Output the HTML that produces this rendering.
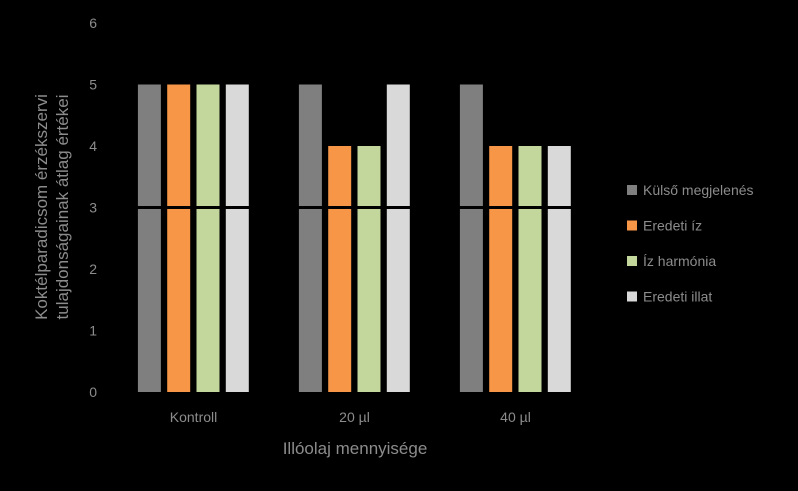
<!DOCTYPE html>
<html><head><meta charset="utf-8"><style>
body{margin:0;background:#000;}
svg text{font-family:"Liberation Sans",sans-serif;fill:#8c8c8c;}
</style></head><body>
<svg id="c" width="798" height="486" xmlns="http://www.w3.org/2000/svg">
<rect width="798" height="486" fill="#000"/>
<g id="bars"></g>
<g id="yt"></g>
<g id="xt"></g>
<text x="355" y="454" font-size="17" text-anchor="middle">Illóolaj mennyisége</text>
<text transform="translate(50,207) rotate(-90)" font-size="17" text-anchor="middle"><tspan x="0" dy="-3">Koktélparadicsom érzékszervi</tspan><tspan x="0" dy="21">tulajdonságainak átlag értékei</tspan></text>
<g id="legend"></g>
</svg>
<script>
const categories=["Kontroll","20 µl","40 µl"];
const seriesNames=["Külső megjelenés","Eredeti íz","Íz harmónia","Eredeti illat"];
const s1=[5,5,5];
const s2=[5,4,4];
const s3=[5,4,4];
const s4=[5,5,4];
const yTicks=[0,1,2,3,4,5,6];
const series=[s1,s2,s3,s4];
const colors=["#7f7f7f","#f79646","#c3d69b","#d9d9d9"];
const NS="http://www.w3.org/2000/svg";
const y0=392,yU=61.5,left=113,catW=161,bw=23,step=29.3;
const y=v=>y0-v*yU;
const xc=i=>left+catW*(i+0.5);
const bars=document.getElementById('bars');
series.forEach((s,si)=>s.forEach((v,ci)=>{
 const r=document.createElementNS(NS,'rect');
 
 
 r.setAttribute('x',xc(ci)-2*step+3+si*step);
 r.setAttribute('y',y(v));r.setAttribute('width',bw);r.setAttribute('height',y0-y(v));
 r.setAttribute('fill',colors[si]);bars.appendChild(r);
}));
const gl=document.createElementNS(NS,'line');


gl.setAttribute('x1',left);gl.setAttribute('x2',left+3*catW);gl.setAttribute('y1',y(3));gl.setAttribute('y2',y(3));
gl.setAttribute('stroke','#000');gl.setAttribute('stroke-width','3');bars.appendChild(gl);
const yt=document.getElementById('yt');
yTicks.forEach(t=>{const e=document.createElementNS(NS,'text');
 
 
 e.setAttribute('x',97);e.setAttribute('y',y(t)+5);e.setAttribute('text-anchor','end');e.setAttribute('font-size','14');
 e.textContent=t;yt.appendChild(e);});
const xt=document.getElementById('xt');
categories.forEach((c,i)=>{const e=document.createElementNS(NS,'text');
 
 
 e.setAttribute('x',xc(i));e.setAttribute('y',422);e.setAttribute('text-anchor','middle');e.setAttribute('font-size','14');
 e.textContent=c;xt.appendChild(e);});
const lg=document.getElementById('legend');
seriesNames.forEach((n,i)=>{const yy=190+i*35.5;
 const r=document.createElementNS(NS,'rect');
 
 
 r.setAttribute('x',627);r.setAttribute('y',yy-5);r.setAttribute('width',10);r.setAttribute('height',10);r.setAttribute('fill',colors[i]);lg.appendChild(r);
 const t=document.createElementNS(NS,'text');
 
 
 t.setAttribute('x',643);t.setAttribute('y',yy+5);t.setAttribute('font-size','14');t.textContent=n;lg.appendChild(t);});
</script>
</body></html>
